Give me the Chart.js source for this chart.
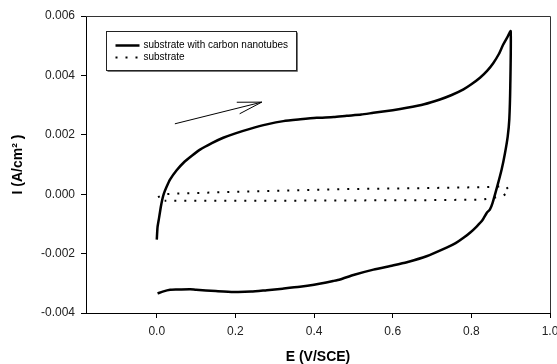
<!DOCTYPE html>
<html>
<head>
<meta charset="utf-8">
<title>Cyclic voltammetry</title>
<script src="https://cdn.jsdelivr.net/npm/chart.js@4/dist/chart.umd.min.js"></script>
<style>
  html, body { margin: 0; padding: 0; background: #fff; }
  #wrap { width: 557px; height: 364px; }
</style>
</head>
<body>
<div id="wrap"><canvas id="cv" width="557" height="364"></canvas></div>
<script>
// Axis ticks
var xTicks = [0.0, 0.2, 0.4, 0.6, 0.8, 1.0];
var yTicks = [-0.004, -0.002, 0.000, 0.002, 0.004, 0.006];

var seriesLabels = ['substrate with carbon nanotubes', 'substrate'];

// substrate with carbon nanotubes: forward scan then reverse scan
var cntE = [0.000, 0.002, 0.006, 0.010, 0.014, 0.018, 0.025, 0.034, 0.050, 0.068,
  0.090, 0.110, 0.140, 0.169, 0.200, 0.237, 0.280, 0.322, 0.365, 0.407,
  0.450, 0.483, 0.520, 0.551, 0.600, 0.636, 0.680, 0.720, 0.750, 0.780,
  0.800, 0.822, 0.840, 0.856, 0.870, 0.881, 0.892, 0.900,
  0.899, 0.8965, 0.8925, 0.8856, 0.877, 0.866, 0.854, 0.847, 0.839, 0.828,
  0.814, 0.798, 0.780, 0.760, 0.737, 0.686, 0.636, 0.600, 0.551, 0.500,
  0.466, 0.449, 0.400, 0.364, 0.320, 0.280, 0.240, 0.195, 0.150, 0.100,
  0.085, 0.050, 0.034, 0.015, 0.002];
var cntI = [-0.00153, -0.00110, -0.00078, -0.00045, -0.00018, 0.00002, 0.00025, 0.00050, 0.00080, 0.00106,
  0.00130, 0.00150, 0.00172, 0.00190, 0.00205, 0.00220, 0.00235, 0.00246, 0.00252, 0.00257,
  0.00260, 0.00264, 0.00268, 0.00274, 0.00283, 0.00291, 0.00303, 0.00319, 0.00334, 0.00353,
  0.00370, 0.00392, 0.00415, 0.00442, 0.00472, 0.00504, 0.00530, 0.00549,
  0.00364, 0.00252, 0.00195, 0.00139, 0.00083, 0.00027, -0.00029, -0.00052, -0.00063, -0.00088,
  -0.00108, -0.00128, -0.00147, -0.00165, -0.00180, -0.00209, -0.00229, -0.00240, -0.00254, -0.00272,
  -0.00287, -0.00292, -0.00305, -0.00312, -0.00318, -0.00323, -0.00328, -0.00329, -0.00326, -0.00322,
  -0.00320, -0.00321, -0.00322, -0.00328, -0.00334];

// bare substrate
var subE = [0.003, 0.020, 0.050, 0.150, 0.250, 0.350, 0.470, 0.600, 0.700, 0.840, 0.888, 0.897,
  0.879, 0.830, 0.700, 0.483, 0.300, 0.150, 0.020];
var subI = [-0.00010, 0.00000, 0.00002, 0.00006, 0.00010, 0.00013, 0.00017, 0.00019, 0.00021, 0.00024, 0.00027, 0.00010,
  -0.00007, -0.00018, -0.00020, -0.00021, -0.00022, -0.00022, -0.00022];

// scan direction arrow (tail, head)
var arrowE = [0.046, 0.267];
var arrowI = [0.00237, 0.00310];

function toPoints(xs, ys) {
  return xs.map(function (x, i) { return { x: x, y: ys[i] }; });
}

var tickFont = { family: 'Arial, "Liberation Sans", sans-serif', size: 12 };
var titleFont = { family: 'Arial, "Liberation Sans", sans-serif', size: 14, weight: 'bold', lineHeight: 1.0 };

// frame on top and right
var framePlugin = {
  id: 'frame',
  afterDraw: function (chart) {
    var a = chart.chartArea, ctx = chart.ctx;
    ctx.save();
    ctx.strokeStyle = '#333';
    ctx.lineWidth = 1;
    ctx.beginPath();
    ctx.moveTo(a.left, a.top + 0.5);
    ctx.lineTo(a.right + 0.5, a.top + 0.5);
    ctx.lineTo(a.right + 0.5, a.bottom);
    ctx.stroke();
    ctx.restore();
  }
};

// arrow showing scan direction
var arrowPlugin = {
  id: 'scanArrow',
  afterDatasetsDraw: function (chart) {
    var xs = chart.scales.x, ys = chart.scales.y, ctx = chart.ctx;
    var x0 = xs.getPixelForValue(arrowE[0]), y0 = ys.getPixelForValue(arrowI[0]);
    var x1 = xs.getPixelForValue(arrowE[1]), y1 = ys.getPixelForValue(arrowI[1]);
    var ang = Math.atan2(y0 - y1, x0 - x1);
    var len = 25, spread = 0.24;
    ctx.save();
    ctx.strokeStyle = '#000';
    ctx.lineWidth = 1;
    ctx.beginPath();
    ctx.moveTo(x0, y0);
    ctx.lineTo(x1, y1);
    ctx.moveTo(x1 + len * Math.cos(ang - spread), y1 + len * Math.sin(ang - spread));
    ctx.lineTo(x1, y1);
    ctx.lineTo(x1 + len * Math.cos(ang + spread), y1 + len * Math.sin(ang + spread));
    ctx.stroke();
    ctx.restore();
  }
};

// boxed legend inside the plot
var legendPlugin = {
  id: 'boxLegend',
  afterDraw: function (chart) {
    var a = chart.chartArea, ctx = chart.ctx;
    var bx = a.left + 20.5, by = a.top + 15.5, bw = 190, bh = 39;
    ctx.save();
    ctx.fillStyle = '#fff';
    ctx.fillRect(bx, by, bw, bh);
    ctx.strokeStyle = '#222';
    ctx.lineWidth = 1;
    ctx.strokeRect(bx, by, bw, bh);
    ctx.beginPath();
    ctx.moveTo(bx + bw + 1, by + 1);
    ctx.lineTo(bx + bw + 1, by + bh + 1);
    ctx.lineTo(bx + 1, by + bh + 1);
    ctx.strokeStyle = '#777';
    ctx.stroke();

    ctx.font = '10px Arial, "Liberation Sans", sans-serif';
    ctx.fillStyle = '#000';
    ctx.textBaseline = 'middle';
    chart.data.datasets.forEach(function (ds, i) {
      var y = Math.round(by + 13 + i * 12.5) + 0.5;
      ctx.beginPath();
      ctx.setLineDash(ds.borderDash || []);
      ctx.lineWidth = ds.borderWidth;
      ctx.strokeStyle = ds.borderColor;
      ctx.moveTo(bx + 9, y);
      ctx.lineTo(bx + 33, y);
      ctx.stroke();
      ctx.setLineDash([]);
      ctx.fillText(ds.label, bx + 37, y);
    });
    ctx.restore();
  }
};

new Chart(document.getElementById('cv'), {
  type: 'scatter',
  data: {
    datasets: [
      { label: seriesLabels[0], data: toPoints(cntE, cntI), showLine: true, borderColor: '#000', borderWidth: 2.5, pointRadius: 0, tension: 0.2 },
      { label: seriesLabels[1], data: toPoints(subE, subI), showLine: true, borderColor: '#000', borderWidth: 2, borderDash: [2, 8], pointRadius: 0, tension: 0 }
    ]
  },
  options: {
    responsive: false,
    animation: false,
    layout: { padding: { top: 16, right: 7, bottom: 0, left: 0 } },
    plugins: { legend: { display: false }, tooltip: { enabled: false } },
    scales: {
      x: {
        type: 'linear', min: -0.18, max: 1.0,
        afterBuildTicks: function (s) { s.ticks = xTicks.map(function (v) { return { value: v }; }); },
        afterFit: function (s) { s.height = 51; s.paddingLeft = 0; s.paddingRight = 0; },
        ticks: { font: tickFont, color: '#222', padding: 6, maxRotation: 0, callback: function (v) { return Number(v).toFixed(1); } },
        grid: { drawOnChartArea: false, drawTicks: true, tickLength: 5, color: '#000' },
        border: { display: true, color: '#000', width: 1 },
        title: { display: true, text: 'E (V/SCE)', font: titleFont, color: '#000', padding: { top: 0, bottom: 0 } }
      },
      y: {
        type: 'linear', min: -0.004, max: 0.006,
        afterBuildTicks: function (s) { s.ticks = yTicks.map(function (v) { return { value: v }; }); },
        afterFit: function (s) { s.width = 86; },
        ticks: { font: tickFont, color: '#222', padding: 6, callback: function (v) { return Number(v).toFixed(3); } },
        grid: { drawOnChartArea: false, drawTicks: true, tickLength: 5, color: '#000' },
        border: { display: true, color: '#000', width: 1 },
        title: { display: true, text: 'I (A/cm\u00B2 )', font: titleFont, color: '#000', padding: { top: 11, bottom: 0 } }
      }
    }
  },
  plugins: [framePlugin, arrowPlugin, legendPlugin]
});
</script>
</body>
</html>
